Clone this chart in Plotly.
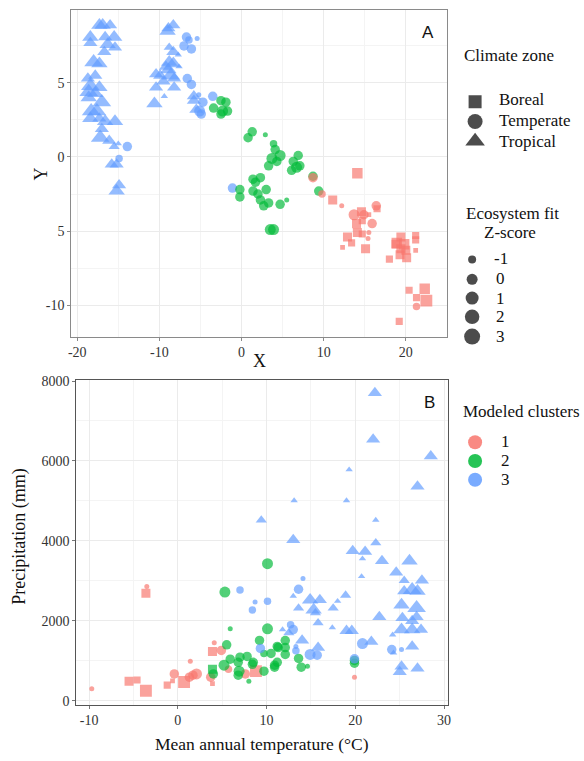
import plotly.graph_objects as go

# ---------------- data ----------------
zone_names = ["Boreal", "Temperate", "Tropical"]
z_levels = [-1, 0, 1, 2, 3]
cluster_labels = ["1", "2", "3"]

a_xticks = [-20, -10, 0, 10, 20]
a_xticktext = ["-20", "-10", "0", "10", "20"]
a_yticks = [-10, -5, 0, 5]
a_yticktext = ["-10", "5", "0", "5"]
b_xticks = [-10, 0, 10, 20, 30]
b_xticktext = ["-10", "0", "10", "20", "30"]
b_yticks = [0, 2000, 4000, 6000, 8000]
b_yticktext = ["0", "2000", "4000", "6000", "8000"]

# Panel A (ordination): tropical/cluster3, temperate/cluster3, temperate/cluster2, temperate/cluster1, boreal/cluster1
a_x = [
    -17.3, -16.9, -16.0, -18.4, -18.4, -16.6, -15.5, -16.3, -15.4, -16.7,
    -18.0, -17.3, -18.7, -17.8, -18.4, -17.3, -18.6, -17.8, -18.6, -17.0,
    -18.3, -17.6, -18.4, -17.3, -16.6, -15.4, -17.0, -17.2, -16.1, -15.5,
    -15.0, -15.8, -15.2, -14.9, -15.2,
    -8.9, -8.3, -9.0, -8.8, -8.3, -7.7, -8.8, -8.3, -9.2, -7.6,
    -8.9, -10.4, -9.9, -8.6, -9.5, -8.2, -10.4, -8.2, -9.4, -5.8,
    -5.8, -10.6, -5.5,
    -13.9, -14.9, -6.7, -6.4, -5.4, -7.0, -6.1, -6.6, -6.1, -5.2, -3.5, -4.7, -5.1, -4.9, -1.1,
    -2.5, -1.9, -3.4, -2.3, -1.7, -2.5, 1.3, 0.8, 2.9, 3.9,
    4.1, 3.7, 4.7, 4.3, 3.3, 6.3, 6.9, 6.7, 6.1, 7.1,
    8.7, 9.4, -0.2, -0.2, 1.4, 2.0, 3.0, 2.3, 2.7, 3.3,
    4.7, 5.5, 3.9, 3.5, 1.4, 2.3, 1.7,
    8.7, 9.8, 12.2, 13.7, 14.9, 16.4, 15.9, 15.5, 15.4, 21.3,
    14.1, 11.1, 14.6, 15.5, 16.5, 14.0, 14.7, 14.1, 14.7, 12.9,
    13.4, 12.3, 15.1, 19.4, 18.9, 19.8, 18.8, 19.4, 20.0, 21.2,
    21.2, 18.0, 19.3, 20.1, 21.2, 20.4, 22.3, 21.3, 22.5, 19.2,
]
a_y = [
    8.9, 8.9, 8.9, 8.1, 7.7, 8.1, 8.1, 7.6, 7.4, 7.1,
    6.4, 6.3, 5.3, 5.5, 4.8, 4.7, 4.4, 4.3, 4.0, 3.7,
    3.1, 3.1, 2.6, 2.6, 2.4, 2.4, 1.9, 1.3, 1.1, 0.7,
    0.9, -0.5, -0.5, -1.9, -2.3,
    8.7, 8.9, 8.5, 7.4, 7.1, 6.9, 6.4, 6.3, 6.1, 6.1,
    5.9, 5.6, 5.5, 5.5, 5.1, 5.3, 4.7, 4.7, 4.1, 4.1,
    3.8, 3.6, 3.2,
    0.7, -0.1, 8.1, 7.9, 8.0, 7.5, 7.3, 5.3, 4.9, 4.2, 4.1, 3.7, 3.1, 2.9, -2.1,
    3.8, 3.7, 3.3, 3.1, 3.1, 2.9, 1.7, 1.3, 1.5, 0.9,
    0.5, -0.1, 0.1, -0.3, -0.6, -0.3, 0.1, -0.7, -0.9, -0.6,
    -1.3, -2.3, -2.2, -2.7, -2.3, -2.5, -2.2, -2.9, -3.3, -3.1,
    -3.2, -2.9, -4.9, -4.9, -1.5, -1.4, -1.7,
    -1.4, -2.5, -3.3, -3.9, -3.9, -3.3, -4.5, -5.1, -5.5, -10.1,
    -1.1, -2.9, -3.7, -3.9, -3.5, -4.5, -4.3, -5.1, -5.2, -5.4,
    -5.8, -6.1, -6.2, -5.4, -5.8, -5.9, -5.9, -6.2, -6.3, -5.3,
    -5.6, -6.9, -6.6, -6.8, -6.3, -9.0, -8.9, -9.5, -9.7, -11.1,
]
a_z = [
    2, 2, 1, 2, 1, 1, 2, 2, 1, 1,
    3, 2, 1, 1, 3, 2, 3, 2, 2, 3,
    3, 3, 2, 1, 2, 2, 1, 3, 1, 0,
    -1, 1, 1, 1, 2,
    1, 1, 2, 0, 1, -1, 2, 2, 1, -1,
    2, 1, 1, 3, 1, 1, 1, 1, -1, 1,
    1, 2, 1,
    1, 0, 1, 0, -1, 1, 1, 1, 1, -1, 1, 1, 2, 1, 1,
    1, 1, 1, 2, 1, 1, 1, 1, -1, 0,
    1, 2, 2, 1, 1, 1, 1, 2, 1, 1,
    1, 1, 1, 1, 1, 1, 1, 1, 1, 1,
    1, -1, 2, 2, 1, 1, 1,
    1, 0, -1, 2, 1, 1, 1, -1, -1, 0,
    2, 1, 1, -1, 0, 1, 0, 1, 0, 1,
    0, -1, 1, 1, 2, 2, 1, 1, 1, 0,
    0, 0, 1, 1, -1, 0, 2, 0, 3, 0,
]
a_zone = ["Tropical"] * 58 + ["Temperate"] * 15 + ["Temperate"] * 37 + ["Temperate"] * 10 + ["Boreal"] * 30
a_cluster = [3] * 58 + [3] * 15 + [2] * 37 + [1] * 10 + [1] * 30

# Panel B (climate): boreal/1, temperate/1, boreal/2, temperate/2, tropical/3, temperate/3
b_temp = [
    -3.6, -5.5, -4.6, -3.6, -1.2, -0.6, 0.7, 3.9, 3.9, 8.8,
    -9.7, -3.5, -0.4, 1.4, 1.3, 2.1, 1.7, 4.1, 3.7, 4.9, 5.7, 7.6, 19.9,
    3.9,
    10.1, 5.3, 10.1, 5.9, 5.5, 5.9, 5.2, 6.8, 7.0, 7.8,
    6.9, 6.8, 8.0, 8.4, 9.2, 9.7, 10.5, 11.2, 10.9, 11.2,
    12.1, 12.1, 11.3, 12.1, 13.6, 8.5, 10.9, 13.9, 14.6, 19.9,
    19.9, 4.0, 9.7,
    22.2, 22.0, 28.5, 19.3, 27.0, 13.1, 19.0, 9.4, 22.3, 13.0,
    22.3, 19.7, 21.1, 20.8, 23.0, 26.1, 24.6, 25.5, 27.5, 20.7,
    25.5, 26.4, 27.0, 13.0, 14.9, 16.0, 18.9, 18.0, 13.6, 15.3,
    17.5, 25.2, 26.9, 15.5, 22.7, 25.3, 26.9, 26.4, 15.8, 11.8,
    17.4, 25.2, 19.0, 19.6, 26.4, 27.4, 12.5, 14.0, 24.2, 21.8,
    15.8, 26.4, 24.3, 25.2, 27.0, 25.0,
    14.1, 13.6, 10.1, 8.7, 8.4, 7.0, 12.7, 13.0, 20.8, 9.3,
    13.3, 24.1, 25.2, 14.9, 15.7, 13.3, 19.9,
]
b_precip = [
    2690, 490, 520, 250, 390, 500, 470, 1230, 430, 740,
    300, 2860, 670, 990, 590, 670, 640, 1450, 590, 1260, 790, 670, 590,
    790,
    3430, 2720, 1800, 1800, 1400, 1040, 890, 960, 1090, 1110,
    740, 640, 490, 910, 1510, 740, 1185, 1358, 890, 960,
    1506, 1160, 1330, 1330, 1060, 960, 840, 840, 860, 1010,
    938, 670, 1185,
    7700, 6540, 6120, 5780, 5360, 5010, 5010, 4520, 4520, 4025,
    3950, 3750, 3730, 3555, 3500, 3500, 3210, 3010, 3010, 3110,
    2740, 2770, 2740, 2620, 2520, 2520, 2640, 2490, 2320, 2270,
    2320, 2400, 2320, 2200, 2100, 2070, 2100, 2000, 1950, 1780,
    1830, 1780, 1750, 1750, 1780, 1780, 1700, 1510, 1650, 1480,
    1330, 1360, 1200, 860, 810, 720,
    3060, 2790, 2490, 2470, 2270, 2770, 1900, 1780, 1430, 1310,
    1360, 1280, 1280, 1160, 1140, 1250, 1050,
]
b_z = [
    1, 1, 0, 3, 0, -1, 3, 1, -1, 3,
    -1, -1, 1, -1, 1, 2, 1, -1, 1, 1, 0, 1, -1,
    1,
    2, 2, 2, -1, 1, 1, 2, 1, 1, 1,
    2, 1, -1, 1, 1, 1, 1, 1, 1, 1,
    1, 1, 1, 1, 1, 1, 1, 1, -1, 1,
    1, 1, 0,
    1, 1, 1, -1, 1, -1, -1, 0, -1, 1,
    0, 1, 1, -1, 1, 2, 1, 0, 1, -1,
    1, 3, 2, -1, 2, 1, 0, -1, 0, 2,
    0, 2, 3, 0, 1, 1, 1, 1, 0, -1,
    -1, 2, 1, 1, 2, 1, 0, 1, -1, 1,
    1, 1, -1, 1, 1, 1,
    -1, 1, 0, -1, 0, 0, 0, 1, 2, 1,
    -1, 1, -1, 2, 1, 0, 1,
]
b_zone = (["Boreal"] * 10 + ["Temperate"] * 13 + ["Boreal"] * 1 + ["Temperate"] * 33
          + ["Tropical"] * 56 + ["Temperate"] * 17)
b_cluster = [1] * 10 + [1] * 13 + [2] * 1 + [2] * 33 + [3] * 56 + [3] * 17

# ---------------- styles ----------------
W, H = 584, 761
SERIF = "'Liberation Serif', 'Times New Roman', Times, 'DejaVu Serif', serif"
SANS = "'Liberation Sans', Arial, 'DejaVu Sans', sans-serif"
zone_symbol = {"Boreal": "square", "Temperate": "circle", "Tropical": "triangle-up"}
zone_scale = {"Boreal": 0.95, "Temperate": 1.0, "Tropical": 1.3}
cluster_color = {1: "#F8766D", 2: "#00BA38", 3: "#619CFF"}
data_size = {-1: 5, 0: 7.5, 1: 9.5, 2: 11, 3: 12.5}
key_size = {-1: 8, 0: 11, 1: 13, 2: 14.5, 3: 16}
GRID = "#EBEBEB"
MINOR = "#F4F4F4"


def px(x):
    return x / W


def py(y):
    return 1 - y / H


fig = go.Figure()


def add_points(xs, ys, zones, clusters, zs, xa, ya):
    fig.add_trace(go.Scatter(
        x=xs, y=ys, mode="markers", xaxis=xa, yaxis=ya, showlegend=False,
        hoverinfo="skip",
        marker=dict(symbol=[zone_symbol[z] for z in zones],
                    color=[cluster_color[c] for c in clusters],
                    size=[data_size[v] * zone_scale[z] for v, z in zip(zs, zones)],
                    opacity=0.68, line=dict(width=0)),
    ))


add_points(a_x, a_y, a_zone, a_cluster, a_z, "x", "y")
add_points(b_temp, b_precip, b_zone, b_cluster, b_z, "x2", "y2")

# legend keys drawn on a hidden pixel-mapped axis
fig.add_trace(go.Scatter(
    x=[477] * len(zone_names), y=[97, 117, 137], xaxis="x3", yaxis="y3",
    mode="markers", showlegend=False, hoverinfo="skip",
    marker=dict(symbol=[zone_symbol[z] for z in zone_names], color="black",
                size=[13, 15, 17], line=dict(width=0))))
fig.add_trace(go.Scatter(
    x=[474] * len(z_levels), y=[257, 277, 296, 315, 335], xaxis="x3", yaxis="y3",
    mode="markers", showlegend=False, hoverinfo="skip",
    marker=dict(symbol="circle", color="black",
                size=[key_size[v] for v in z_levels], line=dict(width=0))))
fig.add_trace(go.Scatter(
    x=[477] * len(cluster_labels), y=[442, 461, 480], xaxis="x3", yaxis="y3",
    mode="markers", showlegend=False, hoverinfo="skip",
    marker=dict(symbol="circle", color=[cluster_color[int(c)] for c in cluster_labels],
                size=14, opacity=0.85, line=dict(width=0))))

tickfont = dict(family=SERIF, size=14, color="#333")
common = dict(showline=True, linewidth=1, mirror=True, ticks="outside", ticklen=3,
              zeroline=False, showgrid=True, gridcolor=GRID, gridwidth=1,
              tickfont=tickfont, tickmode="array")

fig.update_layout(
    width=W, height=H, margin=dict(l=0, r=0, t=0, b=0),
    paper_bgcolor="white", plot_bgcolor="white", hovermode=False,
    font=dict(family=SERIF),
    xaxis=dict(domain=[px(69), px(449)], anchor="y", range=[-20.72, 25.06],
               tickvals=a_xticks, ticktext=a_xticktext, linecolor="#8a8a8a", tickcolor="#8a8a8a",
               minor=dict(tickvals=[-15, -5, 5, 15], showgrid=True, gridcolor=MINOR, ticks=""),
               **common),
    yaxis=dict(domain=[py(335), py(4)], anchor="x", range=[-12.13, 9.93],
               tickvals=a_yticks, ticktext=a_yticktext, linecolor="#8a8a8a", tickcolor="#8a8a8a",
               minor=dict(tickvals=[-7.5, -2.5, 2.5, 7.5], showgrid=True, gridcolor=MINOR, ticks=""),
               **common),
    xaxis2=dict(domain=[px(74), px(450)], anchor="y2", range=[-11.45, 30.48],
                tickvals=b_xticks, ticktext=b_xticktext, linecolor="#555", tickcolor="#777",
                minor=dict(tickvals=[-5, 5, 15, 25], showgrid=True, gridcolor=MINOR, ticks=""),
                **common),
    yaxis2=dict(domain=[py(708), py(379)], anchor="x2", range=[-99, 8025],
                tickvals=b_yticks, ticktext=b_yticktext, linecolor="#555", tickcolor="#777",
                minor=dict(tickvals=[1000, 3000, 5000, 7000], showgrid=True, gridcolor=MINOR, ticks=""),
                **common),
    xaxis3=dict(domain=[px(455), 1], anchor="y3", range=[455, 584], visible=False, fixedrange=True),
    yaxis3=dict(domain=[0, 1], anchor="x3", range=[761, 0], visible=False, fixedrange=True),
)

ann = []


def text(x, y, s, size=17, xanchor="left", family=SERIF, textangle=0):
    ann.append(dict(x=px(x), y=py(y), xref="paper", yref="paper", text=s, showarrow=False,
                    xanchor=xanchor, yanchor="middle", textangle=textangle,
                    font=dict(family=family, size=size, color="#111")))


# axis titles
text(259, 360, "X", size=18, xanchor="center")
text(38, 170, "Y", size=18, xanchor="center", textangle=-90)
text(262, 748, "Mean annual temperature (°C)", size=17.5, xanchor="center")
text(17, 538, "Precipitation (mm)", size=18, xanchor="center", textangle=-90)
# panel labels
text(429, 27, "A", size=17, xanchor="center", family=SANS)
text(431, 402, "B", size=17, xanchor="center", family=SANS)
# legend texts
text(464, 50, "Climate zone")
for lab, yy in zip(zone_names, [95, 116, 137]):
    text(499, yy, lab)
text(515, 210, "Ecosystem fit", xanchor="center")
text(512, 230, "Z-score", xanchor="center")
for v, yy in zip(z_levels, [256, 276, 296, 315, 335]):
    text(503, yy, str(v), xanchor="center")
text(463, 411, "Modeled clusters")
for lab, yy in zip(cluster_labels, [441, 461, 480]):
    text(508, yy, lab, xanchor="center")

fig.update_layout(annotations=ann)
fig.write_html(
    "out.html",
    config={"displayModeBar": False},
    post_script="document.body.style.margin='0';document.body.style.overflow='hidden';",
)
